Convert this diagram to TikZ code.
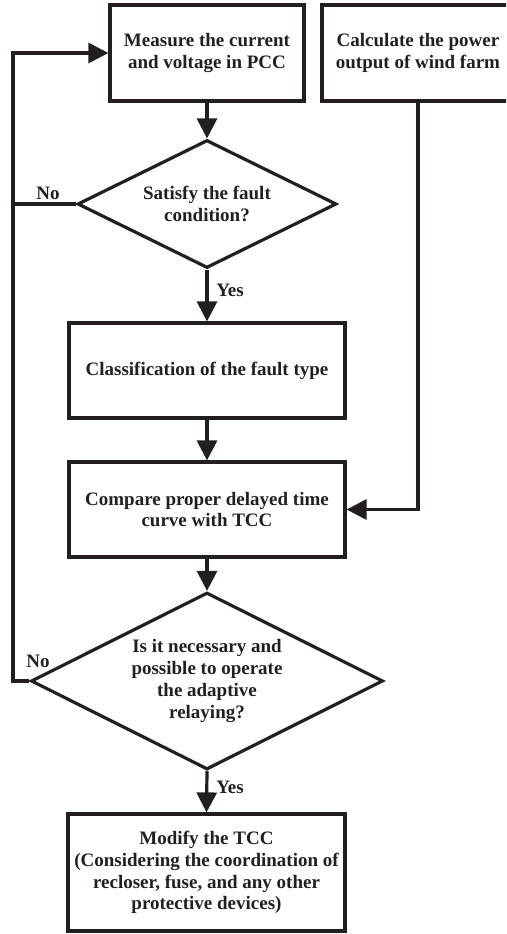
\documentclass[tikz,border=0pt]{standalone}
\usepackage{fontspec}
\setmainfont{Liberation Serif}
\usetikzlibrary{arrows.meta,shapes.geometric}
\definecolor{ink}{HTML}{231F20}
\begin{document}
\begin{tikzpicture}[x=1pt,y=-1pt,
  every node/.style={font=\fontsize{19}{21.7}\selectfont\bfseries, text=ink},
  box/.style={draw=ink, line width=3.2pt, rectangle, align=center, inner sep=0pt},
  dia/.style={draw=ink, line width=3.2pt, diamond, aspect=2, align=center, inner sep=0pt},
  conn/.style={draw=ink, line width=3.2pt},
  arr/.style={conn, -{Triangle[length=20pt,width=20pt]}},
  lbl/.style={inner sep=0pt}]
\useasboundingbox (0,0) rectangle (506,934);
\clip (0,0) rectangle (506,934);

\node[box, minimum width=194pt, minimum height=96pt] (m) at (207,53)
  {Measure the current\\and voltage in PCC};
\node[box, minimum width=192pt, minimum height=96pt] (c) at (418,53)
  {Calculate the power\\output of wind farm};
\node[dia, minimum width=259pt, minimum height=128pt] (d1) at (207,204)
  {Satisfy the fault\\condition?};
\node[box, minimum width=276pt, minimum height=95pt] (b3) at (207,370.5)
  {Classification of the fault type};
\node[box, minimum width=276pt, minimum height=95pt] (b4) at (207,509.5)
  {Compare proper delayed time\\curve with TCC};
\node[dia, minimum width=352pt, minimum height=177pt] (d2) at (207,681)
  {Is it necessary and\\possible to operate\\the adaptive\\relaying?};
\node[box, minimum width=277pt, minimum height=117pt] (b5) at (206.5,872.5)
  {Modify the TCC\\(Considering the coordination of\\recloser, fuse, and any other\\protective devices)};

\coordinate (L1) at (13,204);
\coordinate (L2) at (13,681);

\draw[arr] (m.south) -- (d1.north);
\draw[arr] (d1.south) -- (b3.north);
\draw[arr] (b3.south) -- (b4.north);
\draw[arr] (c.south) |- (b4.east);
\draw[arr] (b4.south) -- (d2.north);
\draw[arr] (d2.south) -- (b5.north);
\draw[conn] (d1.west) -- (L1);
\draw[arr] (d2.west) -- (L2) -- (L2 |- m.west) -- (m.west);

\node[lbl] (no1) at (48,193) {No};
\node[lbl] (yes1) at (230,290) {Yes};
\node[lbl] (no2) at (38,661) {No};
\node[lbl] (yes2) at (230,787) {Yes};
\end{tikzpicture}
\end{document}
